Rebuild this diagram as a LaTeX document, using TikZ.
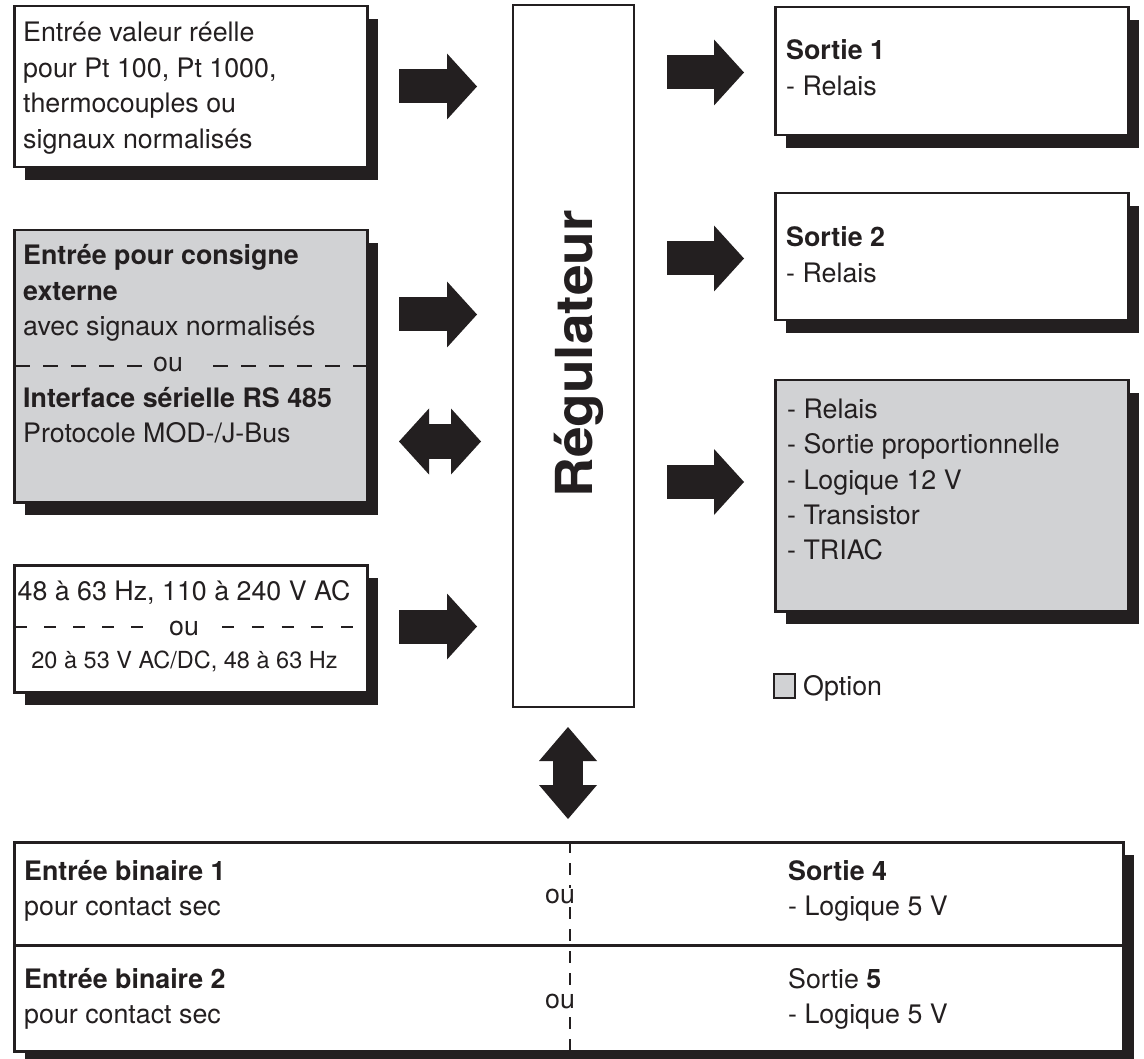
\documentclass[tikz,border=0pt]{standalone}
\usepackage{fontspec}
\usepackage{graphicx}
\setmainfont{TeX Gyre Heros}
\usetikzlibrary{arrows.meta,shadows,calc}
\definecolor{ink}{HTML}{231F20}
\definecolor{optgray}{HTML}{D1D2D4}
\newcommand{\mylines}[1]{\begin{tabular}[t]{@{}l@{}}#1\end{tabular}}
\newcommand{\txtfont}{\fontsize{26.8}{35.5}\selectfont}
\begin{document}
\begin{tikzpicture}[x=1pt,y=-1pt,
  box/.style={draw=ink, line width=2.5pt, fill=white, inner sep=0pt, anchor=north west,
    drop shadow={shadow xshift=11pt, shadow yshift=-13pt, fill=ink, opacity=1}},
  gbox/.style={box, fill=optgray},
  lbl/.style={inner sep=0pt, anchor=base west, text=ink, font=\txtfont},
  clbl/.style={inner sep=0pt, anchor=base, text=ink, font=\txtfont},
  blkarrow/.style={draw=ink, line width=#1, line cap=butt},
  tipA/.tip={Triangle[length=30pt,width=66pt,line width=0pt]},
  tipB/.tip={Triangle[length=34pt,width=58pt,line width=0pt]},
  dashln/.style={draw=ink, line width=2.5pt}
]
\useasboundingbox (0,0) rectangle (1144,1059);
\fill[white] (0,0) rectangle (1144,1059);

% left boxes
\node[box, minimum width=353pt, minimum height=161pt] (in1) at (13,5) {};
\node[gbox, minimum width=353pt, minimum height=272pt] (in2) at (13,229) {};
\node[box, minimum width=353pt, minimum height=127pt] (in3) at (13,564) {};

% controller
\node[draw=ink, line width=2pt, fill=white, inner sep=0pt, anchor=north west,
  minimum width=121pt, minimum height=702pt] (reg) at (512,4) {};
\node[rotate=90, anchor=base, inner sep=0pt, text=ink,
  font=\fontsize{51}{60}\selectfont\bfseries] (regt) at (592,354) {\scalebox{1.08}[1]{Régulateur}};

% right boxes
\node[box, minimum width=353pt, minimum height=128pt] (out1) at (774,6) {};
\node[box, minimum width=353pt, minimum height=127pt] (out2) at (774,192) {};
\node[gbox, minimum width=353pt, minimum height=231pt] (out3) at (774,379) {};

% bottom box
\node[box, minimum width=1109pt, minimum height=103pt] (bin1) at (13,841) {};
\node[box, minimum width=1109pt, minimum height=106pt] (bin2) at (13,944) {};

% texts left
\node[lbl] (in1t) at (23,42) {\mylines{Entrée valeur réelle\\pour Pt 100, Pt 1000,\\thermocouples ou\\signaux normalisés}};
\node[lbl] (in2a) at (23,265) {\mylines{\textbf{Entrée pour consigne}\\\textbf{externe}\\avec signaux normalisés}};
\node[clbl] (in2ou) at (168,372) {ou};
\node[lbl] (in2b) at (23,407) {\mylines{\textbf{Interface sérielle RS 485}\\Protocole MOD-/J-Bus}};
\node[clbl] (in3a) at (184,600) {48 à 63 Hz, 110 à 240 V AC};
\node[clbl] (in3ou) at (184,635) {ou};
\node[clbl, font=\fontsize{23.5}{28}\selectfont] (in3b) at (184.5,668) {20 à 53 V AC/DC, 48 à 63 Hz};

% dashed separators
\coordinate (d2a) at (15,366); \coordinate (d2b) at (143,366);
\coordinate (d2c) at (213,366); \coordinate (d2d) at (366,366);
\draw[dashln, dash pattern=on 15pt off 13pt] (d2a) -- (d2b);
\draw[dashln, dash pattern=on 15pt off 13pt] (d2c) -- (d2d);
\coordinate (d3a) at (15,627); \coordinate (d3b) at (143,627);
\coordinate (d3c) at (222,627); \coordinate (d3d) at (354,627);
\draw[dashln, dash pattern=on 12pt off 17pt] (d3a) -- (d3b);
\draw[dashln, dash pattern=on 12pt off 17.75pt] (d3c) -- (d3d);

% texts right
\node[lbl] (o1t) at (786,60) {\mylines{\textbf{Sortie 1}\\- Relais}};
\node[lbl] (o2t) at (786,247) {\mylines{\textbf{Sortie 2}\\- Relais}};
\node[lbl] (o3t) at (787,418) {\mylines{- Relais\\- Sortie proportionnelle\\- Logique 12 V\\- Transistor\\- TRIAC}};

% legend
\node[draw=ink, fill=optgray, line width=1.5pt, minimum width=21pt, minimum height=24pt,
  inner sep=0pt, anchor=north west] (optsq) at (773,673) {};
\node[lbl] (optt) at (803,695) {Option};

% bottom texts
\coordinate (dv1) at (570,841); \coordinate (dv2) at (570,1050);
\draw[draw=ink, line width=2pt, dash pattern=on 12pt off 10pt] (dv1) -- (dv2);
\node[lbl] (b1l) at (24,880) {\mylines{\textbf{Entrée binaire 1}\\pour contact sec}};
\node[lbl] (b1r) at (788,880) {\mylines{\textbf{Sortie 4}\\- Logique 5 V}};
\node[lbl, fill=white, inner sep=1pt] (b1ou) at (544,903) {ou};
\node[lbl] (b2l) at (24,988) {\mylines{\textbf{Entrée binaire 2}\\pour contact sec}};
\node[lbl] (b2r) at (788,988) {\mylines{Sortie \textbf{5}\\- Logique 5 V}};
\node[lbl, fill=white, inner sep=1pt] (b2ou) at (544,1008) {ou};

% arrows into controller
\coordinate (a1s) at (399,86.5);  \coordinate (a1e) at (477,86.5);
\coordinate (a2s) at (399,314.5); \coordinate (a2e) at (477,314.5);
\coordinate (a3s) at (399,441.5); \coordinate (a3e) at (481,441.5);
\coordinate (a4s) at (399,626.5); \coordinate (a4e) at (477,626.5);
\draw[blkarrow=34pt, -tipA] (a1s) -- (a1e);
\draw[blkarrow=34pt, -tipA] (a2s) -- (a2e);
\draw[blkarrow=35pt, tipA-tipA] (a3s) -- (a3e);
\draw[blkarrow=34pt, -tipA] (a4s) -- (a4e);

% arrows out of controller
\coordinate (r1s) at (667,72.5);  \coordinate (r1e) at (744,72.5);
\coordinate (r2s) at (667,258.5); \coordinate (r2e) at (744,258.5);
\coordinate (r3s) at (667,482);   \coordinate (r3e) at (744,482);
\draw[blkarrow=34pt, -tipA] (r1s) -- (r1e);
\draw[blkarrow=34pt, -tipA] (r2s) -- (r2e);
\draw[blkarrow=34pt, -tipA] (r3s) -- (r3e);

% vertical double arrow
\coordinate (vs) at (568,727); \coordinate (ve) at (568,819);
\draw[blkarrow=30pt, tipB-tipB] (vs) -- (ve);
\end{tikzpicture}
\end{document}
